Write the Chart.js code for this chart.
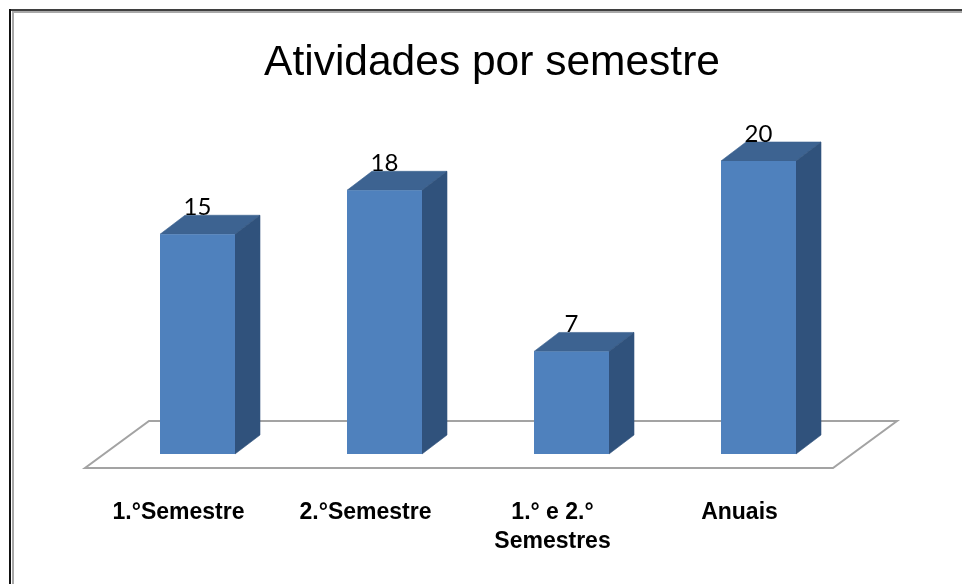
<!DOCTYPE html>
<html lang="pt">
<head>
<meta charset="utf-8">
<title>Atividades por semestre</title>
<style>html,body{margin:0;padding:0;background:#fff}canvas{display:block}</style>
<script src="https://cdn.jsdelivr.net/npm/chart.js@4"></script>
</head>
<body>
<canvas id="c" width="962" height="584"></canvas>
<script>
const chartTitle = "Atividades por semestre";
const categories = ["1.°Semestre", "2.°Semestre", ["1.° e 2.°", "Semestres"], "Anuais"];
const values = [15, 18, 7, 20];

const FRONT = "#4f81bd", TOP = "#3d6391", SIDE = "#30527c", FLOOR = "#a3a3a3";
const DEPTH_X = 25, DEPTH_Y = 19, FLOOR_DX = 64, FLOOR_DY = 47, FLOOR_DROP = 14, LABEL_SHIFT = 19;

function poly(ctx, pts, fill, stroke, lw) {
  ctx.beginPath();
  pts.forEach((p, i) => i ? ctx.lineTo(p[0], p[1]) : ctx.moveTo(p[0], p[1]));
  ctx.closePath();
  if (fill) { ctx.fillStyle = fill; ctx.fill(); }
  if (stroke) { ctx.strokeStyle = stroke; ctx.lineWidth = lw; ctx.stroke(); }
}

const bar3d = {
  id: "bar3d",
  afterLayout(chart) {
    const t = chart.titleBlock;
    t.left += 14; t.right += 14;
  },
  beforeDraw(chart) {
    const ctx = chart.ctx, w = chart.width, h = chart.height;
    ctx.save();
    ctx.fillStyle = "#3f3f3f"; ctx.fillRect(9, 9, w - 9, 2);
    ctx.fillStyle = "#111";    ctx.fillRect(9, 9, 2, h - 9);
    ctx.fillStyle = "#a8a8a8"; ctx.fillRect(12, 11, 2, h - 11); ctx.fillRect(12, 11, w - 12, 2);
    ctx.restore();
  },
  beforeDatasetsDraw(chart) {
    const ctx = chart.ctx, a = chart.chartArea;
    const base = a.bottom + FLOOR_DROP, l = a.left - LABEL_SHIFT, r = a.right - LABEL_SHIFT;
    ctx.save();
    poly(ctx, [[l, base], [r, base], [r + FLOOR_DX, base - FLOOR_DY], [l + FLOOR_DX, base - FLOOR_DY]], "#fff", FLOOR, 2);
    chart.getDatasetMeta(0).data.forEach(b => {
      const x0 = b.x - b.width / 2, x1 = b.x + b.width / 2;
      poly(ctx, [[x0, b.y], [x1, b.y], [x1 + DEPTH_X, b.y - DEPTH_Y], [x0 + DEPTH_X, b.y - DEPTH_Y]], TOP, TOP, 0.6);
      poly(ctx, [[x1, b.y], [x1 + DEPTH_X, b.y - DEPTH_Y], [x1 + DEPTH_X, b.base - DEPTH_Y], [x1, b.base]], SIDE, SIDE, 0.6);
    });
    ctx.restore();
  },
  afterDatasetsDraw(chart) {
    const ctx = chart.ctx;
    ctx.save();
    ctx.font = "24px Lato, 'Open Sans', sans-serif";
    ctx.fillStyle = "#000";
    ctx.textAlign = "center";
    ctx.textBaseline = "alphabetic";
    chart.getDatasetMeta(0).data.forEach((b, i) => {
      ctx.fillText(String(values[i]), b.x, b.y - DEPTH_Y);
    });
    ctx.restore();
  }
};

new Chart(document.getElementById("c"), {
  type: "bar",
  data: {
    labels: categories,
    datasets: [{ data: values, backgroundColor: FRONT, barPercentage: 0.401, categoryPercentage: 1 }]
  },
  plugins: [bar3d],
  options: {
    responsive: false,
    animation: false,
    layout: { padding: { left: 104, right: 110, top: 0, bottom: 0 } },
    plugins: {
      legend: { display: false },
      tooltip: { enabled: false },
      title: {
        display: true,
        text: chartTitle,
        color: "#000",
        font: { family: "'Liberation Sans', Arial, sans-serif", size: 42.5, weight: "normal", lineHeight: 1.2 },
        padding: { top: 38, bottom: 72 }
      }
    },
    scales: {
      x: {
        afterFit(s) { s.height = 130; },
        grid: { display: false },
        border: { display: false },
        ticks: {
          color: "#000",
          font: { family: "'Liberation Sans', Arial, sans-serif", size: 23, weight: "bold", lineHeight: 1.26 },
          padding: 36,
          labelOffset: -LABEL_SHIFT,
          maxRotation: 0,
          autoSkip: false
        }
      },
      y: { display: false, min: 0, max: 20 }
    }
  }
});
</script>
</body>
</html>
